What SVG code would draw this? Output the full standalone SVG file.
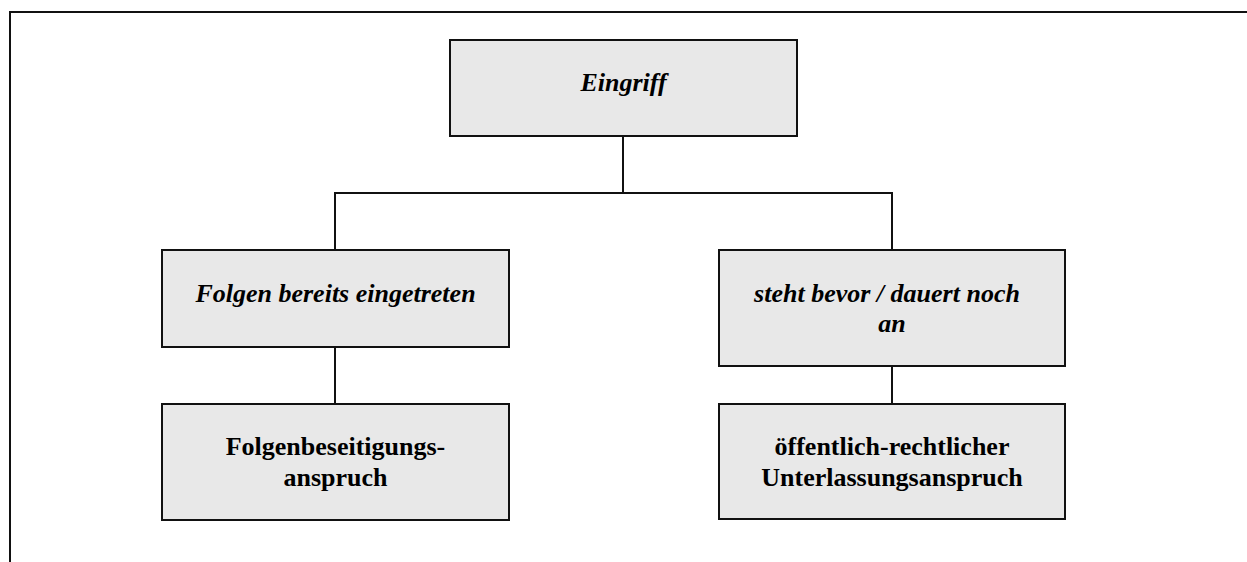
<svg xmlns="http://www.w3.org/2000/svg" width="1247" height="562" viewBox="0 0 1247 562">
<style>
.box{fill:#e8e8e8;stroke:#111;stroke-width:2}
.ln{stroke:#111;stroke-width:2;fill:none}
.t{font-family:"Liberation Serif","Times New Roman",serif;font-size:26px;font-weight:bold;text-anchor:middle;fill:#000}
.i{font-style:italic}
</style>
<rect width="1247" height="562" fill="#fff"/>
<g id="frame">
<path class="ln" d="M10 562 V12 H1247" stroke-width="2.5"/>
</g>
<g id="connectors">
<path class="ln" d="M623 136 V193"/>
<path class="ln" d="M335 250 V193 H892 V250"/>
<path class="ln" d="M335 347 V404"/>
<path class="ln" d="M892 366 V404"/>
</g>
<g id="eingriff">
<rect class="box" x="450" y="40" width="347" height="96"/>
<text class="t i" x="623.5" y="91">Eingriff</text>
</g>
<g id="folgen">
<rect class="box" x="162" y="250" width="347" height="97"/>
<text class="t i" x="335.5" y="302">Folgen bereits eingetreten</text>
</g>
<g id="bevor">
<rect class="box" x="719" y="250" width="346" height="116"/>
<text class="t i" x="887" y="302">steht bevor / dauert noch</text>
<text class="t i" x="892" y="332">an</text>
</g>
<g id="fba">
<rect class="box" x="162" y="404" width="347" height="116"/>
<text class="t" x="335.5" y="455">Folgenbeseitigungs-</text>
<text class="t" x="335.5" y="486">anspruch</text>
</g>
<g id="ula">
<rect class="box" x="719" y="404" width="346" height="115"/>
<text class="t" x="892" y="455">öffentlich-rechtlicher</text>
<text class="t" x="892" y="486">Unterlassungsanspruch</text>
</g>
</svg>
